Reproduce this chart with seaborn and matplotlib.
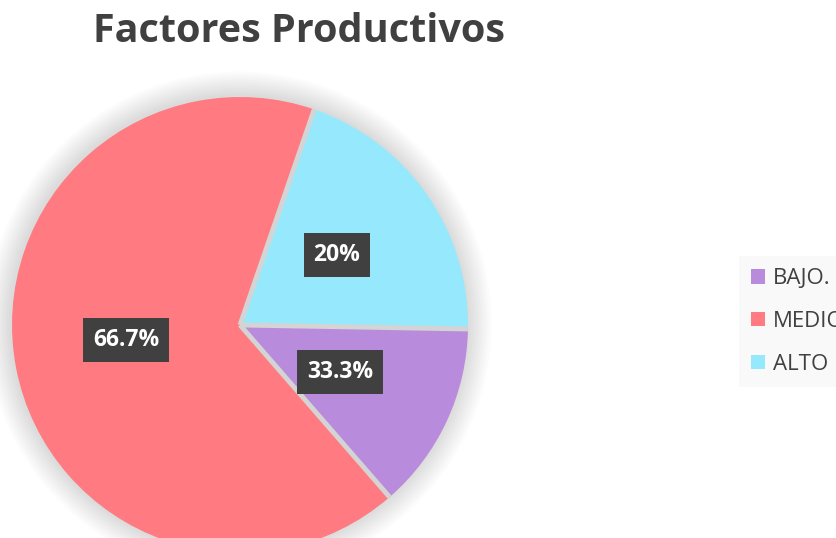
import matplotlib
matplotlib.use("Agg")
import numpy as np
import matplotlib.pyplot as plt
import seaborn as sns
from matplotlib.patches import Circle

categories = ["BAJO.", "MEDIO", "ALTO"]
values = [2, 10, 3]
label_texts = ["33.3%", "66.7%", "20%"]
colors = ["#B98BDC", "#FF7B81", "#96E9FC"]
title = "Factores Productivos"

sns.set_theme(style="white")
plt.rcParams["font.family"] = ["Open Sans", "DejaVu Sans"]

W, H = 836, 538
fig = plt.figure(figsize=(W / 100, H / 100), dpi=100)
fig.patch.set_facecolor("white")

cx, cy, R = 240, 325, 228
ax = fig.add_axes([(cx - R) / W, (H - cy - R) / H, 2 * R / W, 2 * R / H])
ax.set_aspect("equal")
ax.axis("off")

# soft shadow
for i in range(12):
    ax.add_patch(Circle((-0.004, 0.004), 1.0 + 0.009 * (i + 1), color="#000000",
                        alpha=0.011, lw=0, zorder=0, clip_on=False))

wedges, _ = ax.pie(values, colors=colors, startangle=-1, counterclock=False,
                   radius=1.0, center=(0, 0),
                   wedgeprops=dict(edgecolor="none", linewidth=0))
for w in wedges:
    w.set_zorder(2)
    w.set_clip_on(False)

# separators between slices
for w in wedges:
    th = np.deg2rad(w.theta1)
    ax.plot([0, np.cos(th)], [0, np.sin(th)], color="#D4D4D4", lw=3.5,
            solid_capstyle="butt", zorder=3, clip_on=False)

ax.set_xlim(-1, 1)
ax.set_ylim(-1, 1)

# label positions (pixels -> axes data)
lab_px = [(340, 372), (126, 340), (337, 255)]
for (px, py), t in zip(lab_px, label_texts):
    x = (px - cx) / R
    y = (cy - py) / R
    ax.text(x, y, t, ha="center", va="center", color="white", fontsize=16.5,
            fontweight="bold", zorder=5,
            bbox=dict(boxstyle="square,pad=0.42", facecolor="#404040",
                      edgecolor="none"))

fig.text(299 / W, 1 - 31 / H, title, ha="center", va="center",
         fontsize=28.5, fontweight="bold", color="#404040")

leg = fig.legend(wedges, categories, loc="upper left",
                 bbox_to_anchor=(728 / W, 1 - 245 / H), frameon=True,
                 fontsize=16, labelspacing=0.98, handlelength=0.62,
                 handleheight=0.62, handletextpad=0.36, borderpad=0.55,
                 labelcolor="#404040")
leg.get_frame().set_facecolor("#F8F8F8")
leg.get_frame().set_edgecolor("none")
leg.get_frame().set_boxstyle("square", pad=0)
for h in leg.legend_handles:
    h.set_edgecolor("none")

fig.savefig("out.png", dpi=100)
